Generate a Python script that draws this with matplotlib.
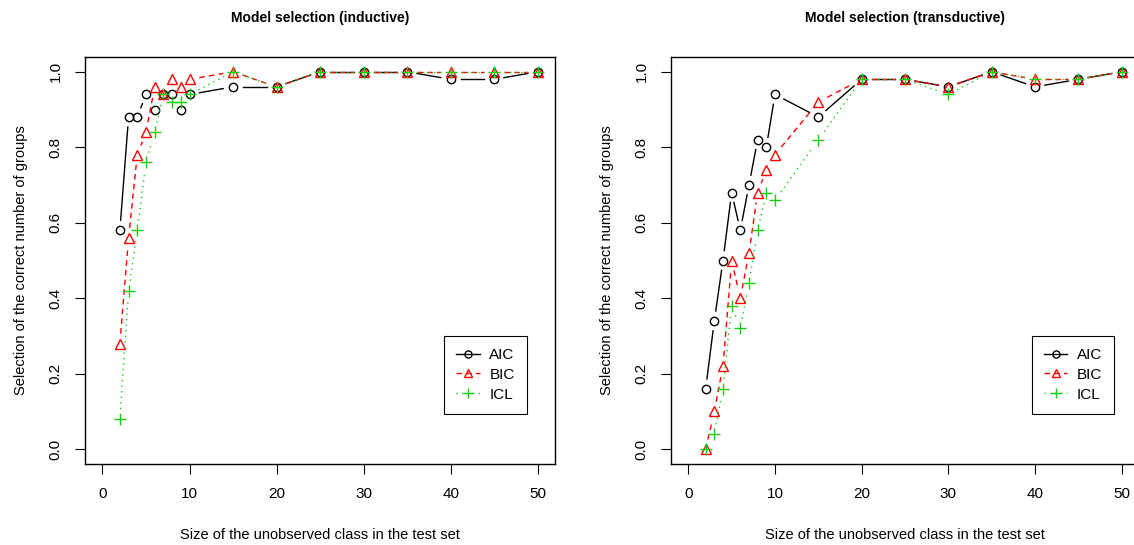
import numpy as np
import matplotlib
matplotlib.use("Agg")
import matplotlib.pyplot as plt
from matplotlib.lines import Line2D

plt.rcParams["font.family"] = ["Liberation Sans", "DejaVu Sans"]

# ---- data ----
size = [2, 3, 4, 5, 6, 7, 8, 9, 10, 15, 20, 25, 30, 35, 40, 45, 50]

ind_aic = [0.58, 0.88, 0.88, 0.94, 0.90, 0.94, 0.94, 0.90, 0.94, 0.96, 0.96, 1.00, 1.00, 1.00, 0.98, 0.98, 1.00]
ind_bic = [0.28, 0.56, 0.78, 0.84, 0.96, 0.94, 0.98, 0.96, 0.98, 1.00, 0.96, 1.00, 1.00, 1.00, 1.00, 1.00, 1.00]
ind_icl = [0.08, 0.42, 0.58, 0.76, 0.84, 0.94, 0.92, 0.92, 0.94, 1.00, 0.96, 1.00, 1.00, 1.00, 1.00, 1.00, 1.00]

tr_aic = [0.16, 0.34, 0.50, 0.68, 0.58, 0.70, 0.82, 0.80, 0.94, 0.88, 0.98, 0.98, 0.96, 1.00, 0.96, 0.98, 1.00]
tr_bic = [0.00, 0.10, 0.22, 0.50, 0.40, 0.52, 0.68, 0.74, 0.78, 0.92, 0.98, 0.98, 0.96, 1.00, 0.98, 0.98, 1.00]
tr_icl = [0.00, 0.04, 0.16, 0.38, 0.32, 0.44, 0.58, 0.68, 0.66, 0.82, 0.98, 0.98, 0.94, 1.00, 0.98, 0.98, 1.00]

names = ["AIC", "BIC", "ICL"]
titles = ["Model selection (inductive)", "Model selection (transductive)"]

GREEN = "#10d010"
STY = {"AIC": dict(color="black", marker="o", ls="-", ms=6),
       "BIC": dict(color="red", marker="^", ls=(0, (4, 3)), ms=7.5),
       "ICL": dict(color=GREEN, marker="+", ls=(0, (1, 3)), ms=9)}
GAP = 10.0  # px gap around each point, like R type="b"

fig = plt.figure(figsize=(11.34, 5.45), dpi=100)
axes = [fig.add_axes([0.075, 0.148, 0.4145, 0.748]),
        fig.add_axes([0.5917, 0.148, 0.4127, 0.748])]


def draw_b(ax, x, y, st):
    # line with gaps around the points, then the points themselves
    P = ax.transData.transform(np.column_stack([x, y]))
    inv = ax.transData.inverted()
    for a, b in zip(P[:-1], P[1:]):
        d = b - a
        L = np.hypot(*d)
        if L <= 2 * GAP:
            continue
        u = d / L
        seg = inv.transform(np.array([a + u * GAP, b - u * GAP]))
        ax.plot(seg[:, 0], seg[:, 1], color=st["color"], ls=st["ls"], lw=1)
    ax.plot(x, y, ls="none", marker=st["marker"], ms=st["ms"], mfc="none",
            mec=st["color"], mew=1.0)


series = [(ind_aic, ind_bic, ind_icl), (tr_aic, tr_bic, tr_icl)]
leg_anchor = [(0.940, 0.124), (0.947, 0.124)]
for ax, ser, ttl, anc in zip(axes, series, titles, leg_anchor):
    ax.set_xlim(-2, 52)
    ax.set_ylim(-0.04, 1.04)
    for nm, yv in zip(names, ser):
        draw_b(ax, size, yv, STY[nm])
    ax.set_xticks(np.arange(0, 51, 10))
    ax.set_yticks(np.arange(0, 1.01, 0.2))
    ax.set_yticklabels([f"{v:.1f}" for v in np.arange(0, 1.01, 0.2)],
                       rotation=90, va="center")
    ax.tick_params(direction="out", length=7, width=0.8, labelsize=11, pad=9)
    for s in ax.spines.values():
        s.set_linewidth(1.0)
    ax.set_xlabel("Size of the unobserved class in the test set", fontsize=10.5,
                  labelpad=20)
    ax.set_ylabel("Selection of the correct number of groups", fontsize=10.5,
                  labelpad=15)
    ax.set_title(ttl, fontsize=10, fontweight="bold", pad=25)
    handles = [Line2D([], [], color=STY[n]["color"], ls=STY[n]["ls"], lw=1,
                      marker=STY[n]["marker"], ms=STY[n]["ms"] * 0.85, mfc="none",
                      mew=1.0) for n in names]
    lg = ax.legend(handles, names, loc="lower right", bbox_to_anchor=anc,
                   borderaxespad=0, fontsize=11, fancybox=False, framealpha=1,
                   edgecolor="black", handlelength=1.55, handletextpad=0.6,
                   labelspacing=0.38, borderpad=0.8)
    lg.get_frame().set_linewidth(0.8)

fig.savefig("out.png", dpi=100)
